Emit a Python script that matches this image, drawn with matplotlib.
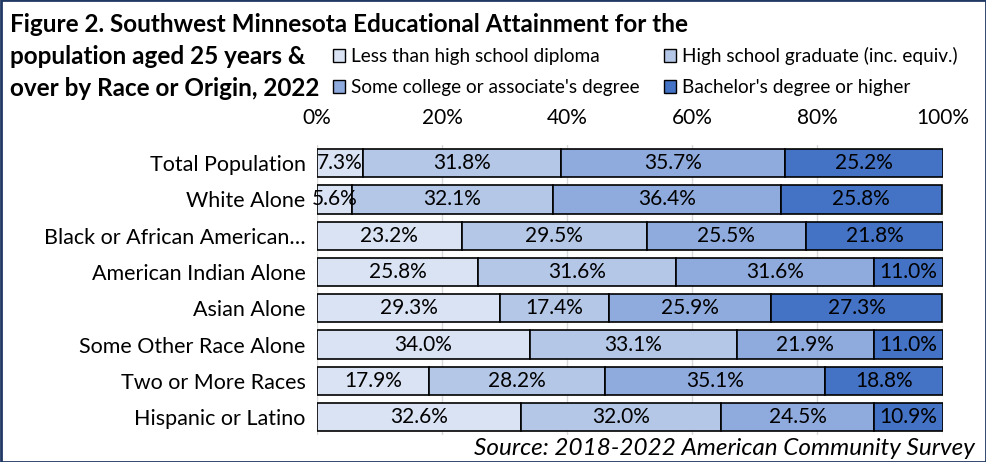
import numpy as np
import matplotlib.pyplot as plt
from matplotlib.patches import Patch, Rectangle

plt.rcParams['font.family'] = ['Lato', 'DejaVu Sans']

groups = ['Total Population', 'White Alone', 'Black or African American\u2026',
          'American Indian Alone', 'Asian Alone', 'Some Other Race Alone',
          'Two or More Races', 'Hispanic or Latino']
less_hs = [7.3, 5.6, 23.2, 25.8, 29.3, 34.0, 17.9, 32.6]
hs_grad = [31.8, 32.1, 29.5, 31.6, 17.4, 33.1, 28.2, 32.0]
some_col = [35.7, 36.4, 25.5, 31.6, 25.9, 21.9, 35.1, 24.5]
bach = [25.2, 25.8, 21.8, 11.0, 27.3, 11.0, 18.8, 10.9]
series_names = ['Less than high school diploma', 'High school graduate (inc. equiv.)',
                "Some college or associate's degree", "Bachelor's degree or higher"]
colors = ['#DAE3F3', '#B4C7E7', '#8FAADC', '#4472C4']

fig = plt.figure(figsize=(9.87, 4.62), dpi=100)
ax = fig.add_axes([0.321, 0.058, 0.634, 0.628])

data = [less_hs, hs_grad, some_col, bach]
y = np.arange(len(groups))
left = np.zeros(len(groups))
handles = []
for vals, c, name in zip(data, colors, series_names):
    vals = np.array(vals)
    bars = ax.barh(y, vals, left=left, height=0.78, color=c, edgecolor='black',
                   linewidth=1.2, zorder=3)
    for b, v in zip(bars, vals):
        ax.text(b.get_x() + b.get_width() / 2, b.get_y() + b.get_height() / 2,
                f'{v:.1f}%', ha='center', va='center', fontsize=15, zorder=4)
    left += vals
    handles.append(Patch(facecolor=c, edgecolor='black', linewidth=1.0, label=name))

ax.set_xlim(0, 100)
ax.set_ylim(len(groups) - 0.5, -0.5)
ax.set_yticks(y)
ax.set_yticklabels(groups, fontsize=15.5)
ax.set_xticks(np.arange(0, 101, 20))
ax.set_xticklabels([f'{t}%' for t in range(0, 101, 20)], fontsize=15)
ax.xaxis.tick_top()
ax.tick_params(axis='x', length=0, pad=12)
ax.tick_params(axis='y', length=0, pad=8)
ax.grid(axis='x', color='#D9D9D9', linewidth=1.0, zorder=0)
for s in ax.spines.values():
    s.set_visible(False)

fig.text(0.010, 0.948, 'Figure 2. Southwest Minnesota Educational Attainment for the',
         fontsize=17.5, fontweight='bold', va='center')
fig.text(0.010, 0.878, 'population aged 25 years &', fontsize=17.5, fontweight='bold', va='center')
fig.text(0.010, 0.809, 'over by Race or Origin, 2022', fontsize=17.5, fontweight='bold', va='center')

# legend fills column-wise, so reorder to read row by row
order = [0, 2, 1, 3]
fig.legend(handles=[handles[i] for i in order], ncol=2, loc='upper left',
           bbox_to_anchor=(0.337, 0.898), frameon=False, fontsize=13.7,
           handlelength=0.65, handleheight=0.65, handletextpad=0.3,
           columnspacing=1.3, labelspacing=0.75, borderpad=0, borderaxespad=0)

fig.text(0.988, 0.03, 'Source: 2018-2022 American Community Survey', fontsize=17.5,
         style='italic', ha='right', va='center')

fig.patches.append(Rectangle((0.001, 0.001), 0.998, 0.998, transform=fig.transFigure,
                             fill=False, edgecolor='#1F3864', linewidth=2.0))

fig.savefig('out.png', dpi=100)
